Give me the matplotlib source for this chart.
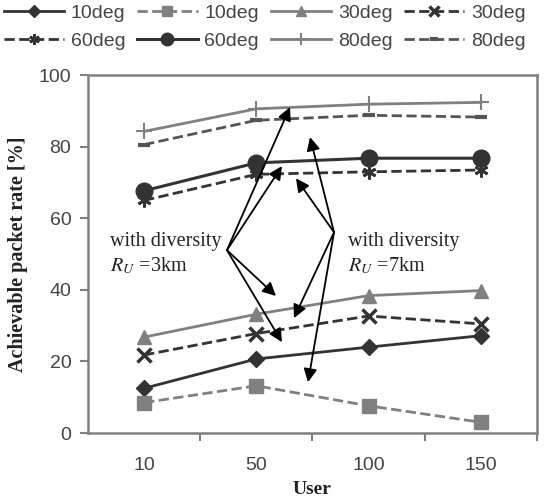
import numpy as np
import matplotlib
matplotlib.use("Agg")
import matplotlib.pyplot as plt

plt.rcParams["mathtext.fontset"] = "stix"

users = ["10", "50", "100", "150"]

deg10_solid = [12.5, 20.7, 24.0, 27.2]
deg10_dash = [8.5, 13.2, 7.6, 3.0]
deg30_solid = [26.8, 33.2, 38.4, 39.8]
deg30_dash = [21.8, 27.8, 32.7, 30.5]
deg60_dash = [65.0, 72.3, 73.0, 73.5]
deg60_solid = [67.7, 75.5, 76.8, 76.8]
deg80_solid = [84.3, 90.6, 91.9, 92.4]
deg80_dash = [80.6, 87.4, 88.8, 88.3]

dark = "#333333"
gray = "#808080"

x = np.arange(len(users))

fig = plt.figure(figsize=(5.57, 4.98), dpi=100)
ax = fig.add_axes([0.158, 0.1305, 0.806, 0.7185])

h0, = ax.plot(x, deg10_solid, "-", color=dark, lw=2, marker="D", ms=8, label="10deg")
h1, = ax.plot(x, deg10_dash, "--", color=gray, lw=2, marker="s", ms=10, label="10deg")
h2, = ax.plot(x, deg30_solid, "-", color=gray, lw=2, marker="^", ms=10, label="30deg")
h3, = ax.plot(x, deg30_dash, "--", color=dark, lw=2, marker="x", ms=10, mew=2.5, label="30deg")
h4, = ax.plot(x, deg60_dash, "--", color=dark, lw=2, marker=(6, 2, 0), ms=10, mew=2, label="60deg")
h5, = ax.plot(x, deg60_solid, "-", color=dark, lw=2.2, marker="o", ms=12, label="60deg")
h6, = ax.plot(x, deg80_solid, "-", color=gray, lw=2, marker="+", ms=11, mew=1.5, label="80deg")
h7, = ax.plot(x, deg80_dash, "--", color="#555555", lw=2, marker="_", ms=8, mew=3, label="80deg")

ax.set_xlim(-0.5, 3.5)
ax.set_ylim(0, 100)
ax.set_yticks([0, 20, 40, 60, 80, 100])
ax.set_xticks(x)
ax.set_xticklabels(users)
ax.set_xticks([0.5, 1.5, 2.5, 3.5], minor=True)
ax.tick_params(axis="x", which="major", length=0, pad=17, labelsize=14, labelcolor="#444444")
ax.tick_params(axis="x", which="minor", length=6, width=1.5, color=gray, direction="out")
ax.tick_params(axis="y", length=6, width=1.5, color=gray, pad=6, labelsize=14, labelcolor="#444444")
for lab in ax.get_xticklabels() + ax.get_yticklabels():
    lab.set_family("Liberation Sans")
for s in ax.spines.values():
    s.set_color(gray)
    s.set_linewidth(1.8)

ax.set_ylabel("Achievable packet rate [%]", family="Liberation Serif", fontweight="bold",
              fontsize=14.5, color="#222222", labelpad=8)
ax.set_xlabel("User", family="Liberation Serif", fontweight="bold",
              fontsize=14, color="#222222", labelpad=5)

# annotations with arrows
arrow = dict(arrowstyle="-|>", mutation_scale=20, color="black", lw=1.3, shrinkA=0, shrinkB=0)
left_origin = (0.738, 51.1)
for tgt in [(1.30, 91.1), (1.228, 74.6), (1.175, 38.3), (1.228, 25.4)]:
    ax.annotate("", xy=tgt, xytext=left_origin, arrowprops=arrow)
right_origin = (1.692, 56.1)
for tgt in [(1.478, 82.7), (1.353, 71.2), (1.335, 32.1), (1.46, 14.2)]:
    ax.annotate("", xy=tgt, xytext=right_origin, arrowprops=arrow)

txt = dict(family="Liberation Serif", fontsize=14.5, va="center", color="#222222")
ax.text(-0.304, 53.4, "with diversity", **txt)
ax.text(-0.304, 46.6, r"$R_U$ =3km", **txt)
ax.text(1.816, 53.4, "with diversity", **txt)
ax.text(1.816, 46.6, r"$R_U$ =7km", **txt)

handles = [h0, h4, h1, h5, h2, h6, h3, h7]
leg = fig.legend(handles, [h.get_label() for h in handles], ncol=4, loc="upper left",
                 bbox_to_anchor=(0.0, 1.0), frameon=False, handlelength=3.1,
                 columnspacing=0.6, handletextpad=0.35, labelspacing=0.55,
                 borderpad=0.2, borderaxespad=0.0, markerscale=0.75,
                 prop={"family": "Liberation Sans", "size": 14})
for t in leg.get_texts():
    t.set_color("#444444")

fig.savefig("out.png", dpi=100)
